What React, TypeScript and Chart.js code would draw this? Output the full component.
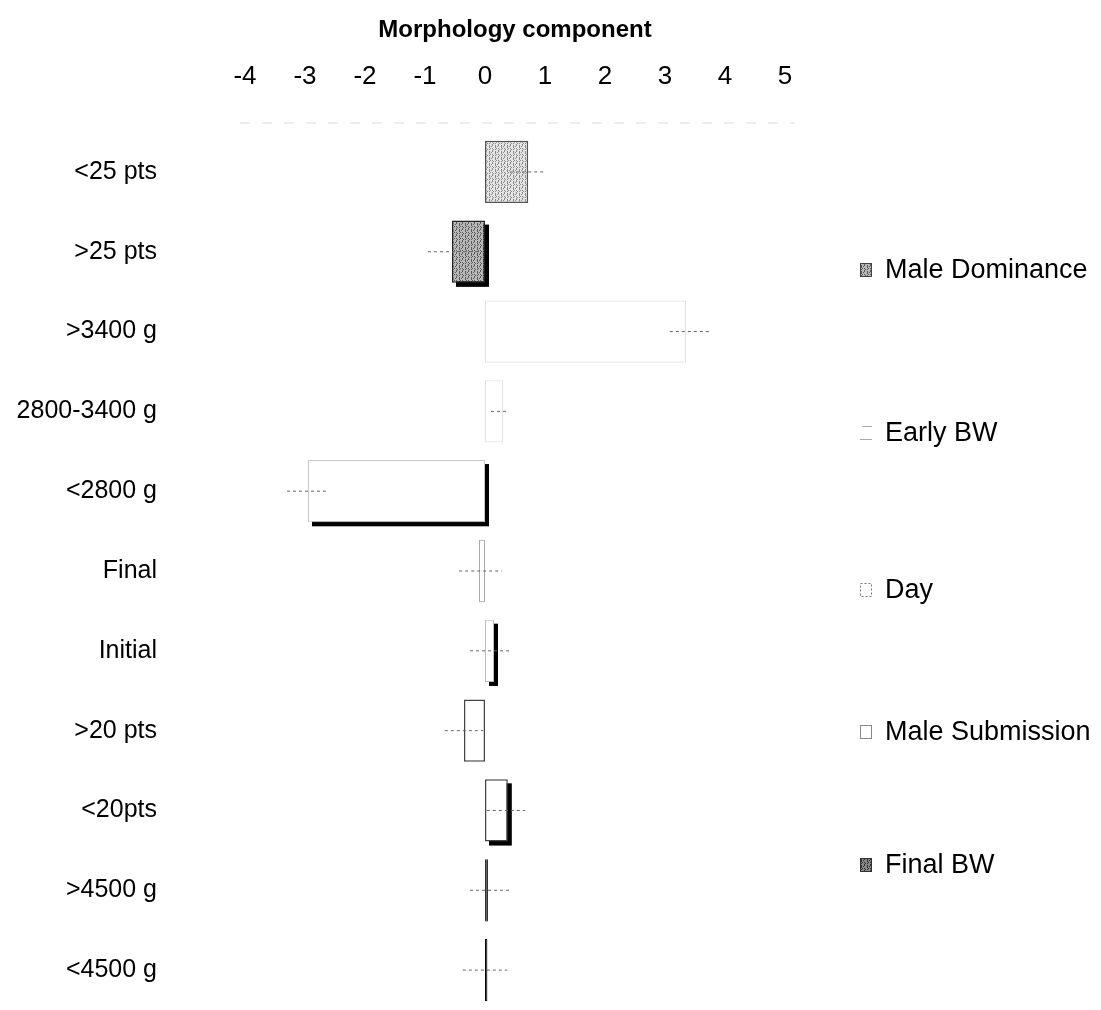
import React, { useEffect, useRef } from "react";
import { Chart, registerables } from "chart.js";
Chart.register(...registerables);

const categories = ["<25 pts", ">25 pts", ">3400 g", "2800-3400 g", "<2800 g", "Final", "Initial", ">20 pts", "<20pts", ">4500 g", "<4500 g"];
const values = [0.72, -0.55, 3.35, 0.3, -2.95, -0.1, 0.15, -0.35, 0.38, 0.05, 0.04];
const errLow = [0.42, -0.95, 3.08, 0.1, -3.3, -0.43, -0.25, -0.67, 0.03, -0.25, -0.37];
const errHigh = [1.0, -0.1, 3.75, 0.4, -2.65, 0.28, 0.43, -0.03, 0.67, 0.4, 0.37];
const groups = ["Male Dominance", "Early BW", "Day", "Male Submission", "Final BW"];
const xMin = -4;
const xMax = 5;

const FONT = "'Liberation Sans', Arial, sans-serif";

function makePattern(light: string, dark: string) {
  const c = document.createElement("canvas");
  c.width = 6;
  c.height = 6;
  const g = c.getContext("2d")!;
  g.fillStyle = light;
  g.fillRect(0, 0, 6, 6);
  g.fillStyle = dark;
  const pts = [[1, 0], [1, 1], [4, 2], [1, 3], [4, 4], [1, 5], [3, 0], [5, 3], [4, 5], [2, 2]];
  pts.forEach(([x, y]) => g.fillRect(x, y, 1, 1));
  return g.createPattern(c, "repeat")!;
}

export default function App() {
  const ref = useRef<HTMLCanvasElement>(null);
  useEffect(() => {
    const canvas = ref.current!;
    const pLight = makePattern("#e4e4e4", "#8a8a8a");
    const pDark = makePattern("#b8b8b8", "#5a5a5a");
    const pLegendFinal = makePattern("#888", "#333");

    const fills: any[] = [pLight, pDark, "rgba(255,255,255,0)", "rgba(255,255,255,0)", "#ffffff", "rgba(255,255,255,0)", "#ffffff", "#ffffff", "#ffffff", "#666666", "#222222"];
    const borders = ["#555", "#222", "#e2e2e2", "#e2e2e2", "#c8c8c8", "#aaaaaa", "#bbbbbb", "#444", "#444", "#333", "#000"];
    const bw = [1.5, 1.5, 1, 1, 1, 1, 1, 1.5, 1.5, 1, 1];
    const shadow = [false, true, false, false, true, false, true, false, true, false, false];

    const legendY = [262, 425, 582, 724, 857];

    const shadowPlugin = {
      id: "shadows",
      beforeDatasetsDraw(chart: any) {
        const ctx = chart.ctx;
        const meta = chart.getDatasetMeta(0);
        ctx.save();
        meta.data.forEach((el: any, i: number) => {
          if (!shadow[i]) return;
          const left = Math.min(el.x, el.base);
          const right = Math.max(el.x, el.base);
          const top = el.y - el.height / 2;
          ctx.fillStyle = "#000";
          ctx.fillRect(left + 4, top + 4, right - left, el.height);
        });
        ctx.restore();
      },
      afterDatasetsDraw(chart: any) {
        const ctx = chart.ctx;
        const meta = chart.getDatasetMeta(0);
        const xs = chart.scales.x;
        ctx.save();
        meta.data.forEach((el: any, i: number) => {
          const x1 = xs.getPixelForValue(errLow[i]);
          const x2 = xs.getPixelForValue(errHigh[i]);
          ctx.strokeStyle = "#666";
          ctx.lineWidth = 1;
          ctx.setLineDash([3, 3]);
          ctx.beginPath();
          ctx.moveTo(x1, el.y);
          ctx.lineTo(x2, el.y);
          ctx.stroke();
        });
        ctx.restore();
      },
      afterDraw(chart: any) {
        const ctx = chart.ctx;
        const ca = chart.chartArea;
        ctx.save();
        ctx.strokeStyle = "#d8d8d8";
        ctx.lineWidth = 1;
        ctx.setLineDash([10, 12]);
        ctx.beginPath();
        ctx.moveTo(ca.left - 5, ca.top - 9);
        ctx.lineTo(ca.right + 10, ca.top - 9);
        ctx.stroke();
        ctx.setLineDash([]);
        const bx = 852;
        groups.forEach((g, i) => {
          const y = legendY[i];
          if (i === 0) {
            ctx.fillStyle = pDark;
            ctx.fillRect(bx, y - 7, 12, 14);
            ctx.strokeStyle = "#444";
            ctx.strokeRect(bx + 0.5, y - 6.5, 11, 13);
          } else if (i === 1) {
            ctx.strokeStyle = "#aaa";
            ctx.beginPath();
            ctx.moveTo(bx + 2, y - 6.5);
            ctx.lineTo(bx + 12, y - 6.5);
            ctx.moveTo(bx, y + 6.5);
            ctx.lineTo(bx + 12, y + 6.5);
            ctx.stroke();
          } else if (i === 2) {
            ctx.strokeStyle = "#777";
            ctx.setLineDash([2, 2]);
            ctx.strokeRect(bx + 0.5, y - 6.5, 11, 13);
            ctx.setLineDash([]);
          } else if (i === 3) {
            ctx.strokeStyle = "#888";
            ctx.strokeRect(bx + 0.5, y - 6.5, 11, 13);
          } else {
            ctx.fillStyle = pLegendFinal;
            ctx.fillRect(bx, y - 7, 12, 14);
            ctx.strokeStyle = "#333";
            ctx.strokeRect(bx + 0.5, y - 6.5, 11, 13);
          }
          ctx.fillStyle = "#000";
          ctx.font = `27px ${FONT}`;
          ctx.textBaseline = "middle";
          ctx.textAlign = "left";
          ctx.fillText(g, bx + 25, y + 1);
        });
        ctx.restore();
      },
    };

    const chart = new Chart(canvas, {
      type: "bar",
      data: {
        labels: categories,
        datasets: [
          {
            data: values,
            backgroundColor: fills,
            borderColor: borders,
            borderWidth: bw,
            borderSkipped: false,
            barPercentage: 0.78,
            categoryPercentage: 1,
          },
        ],
      },
      options: {
        indexAxis: "y",
        responsive: false,
        maintainAspectRatio: false,
        animation: false,
        layout: { padding: { left: 0, right: 308, top: 0, bottom: 0 } },
        plugins: { legend: { display: false }, tooltip: { enabled: false } },
        scales: {
          x: {
            type: "linear",
            position: "top",
            min: xMin,
            max: xMax,
            ticks: { stepSize: 1, color: "#000", font: { family: FONT, size: 26 }, padding: 40 },
            grid: { display: false, drawTicks: false },
            border: { display: false },
            title: {
              display: true,
              text: "Morphology component",
              color: "#000",
              font: { family: FONT, size: 24, weight: "bold" },
              padding: { top: 8, bottom: 4 },
            },
            afterFit(scale: any) {
              scale.height = 124;
              scale.paddingLeft = 0;
              scale.paddingRight = 0;
            },
          },
          y: {
            type: "category",
            ticks: { color: "#000", font: { family: FONT, size: 25 }, padding: 88 },
            grid: { display: false, drawTicks: false },
            border: { display: false },
            afterFit(scale: any) {
              scale.width = 237;
              scale.paddingTop = 0;
              scale.paddingBottom = 0;
            },
          },
        },
      },
      plugins: [shadowPlugin],
    } as any);
    return () => chart.destroy();
  }, []);
  return <canvas ref={ref} width={1085} height={1002} style={{ display: "block", width: "1085px", height: "1002px" }} />;
}
